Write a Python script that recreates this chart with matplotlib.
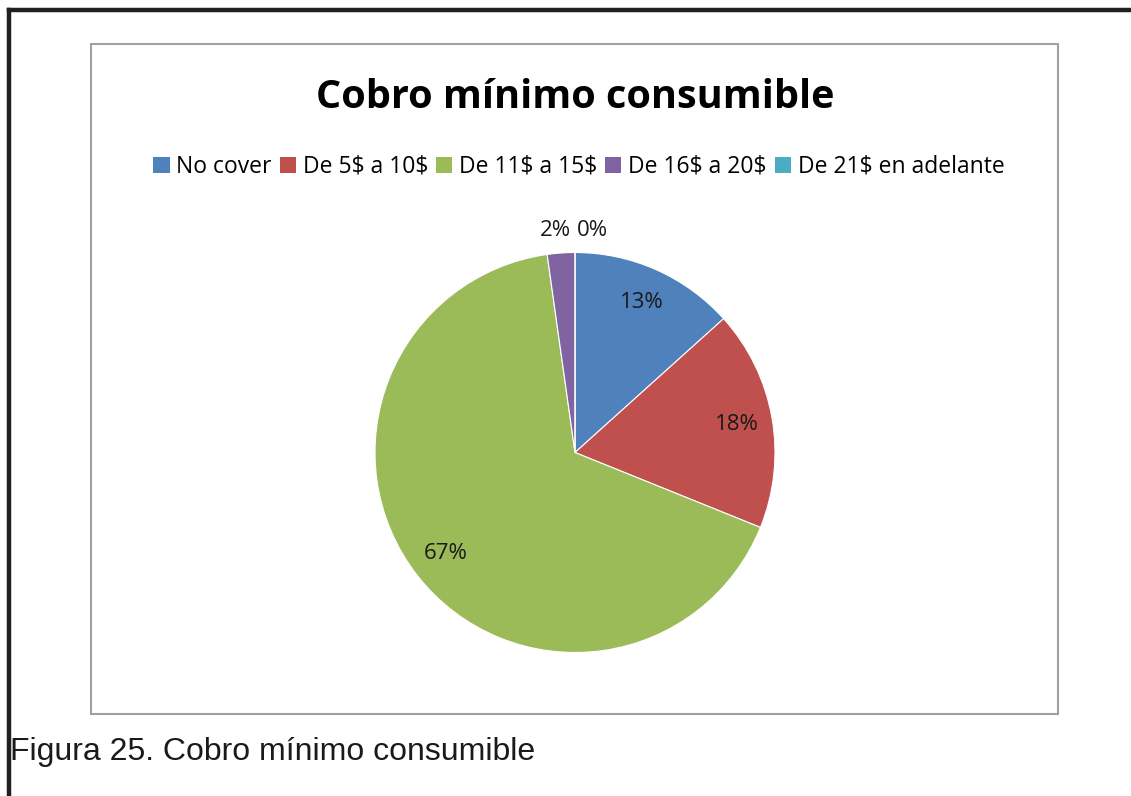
import numpy as np
import matplotlib.pyplot as plt
from matplotlib.patches import Rectangle
from matplotlib.lines import Line2D

plt.rcParams["text.parse_math"] = False

# respuestas por rango de cobro mínimo
categorias = ["No cover", "De 5$ a 10$", "De 11$ a 15$", "De 16$ a 20$", "De 21$ en adelante"]
respuestas = [6, 8, 30, 1, 0]
colores = ["#4F81BD", "#C0504D", "#9BBB59", "#8064A2", "#4BACC6"]

W, H = 1131, 796
fig = plt.figure(figsize=(W / 100, H / 100), dpi=100)
fig.patch.set_facecolor("white")


def px(x, y):
    return x / W, 1 - y / H


# marco negro de la página
fig.add_artist(Line2D([9 / W, 1], [1 - 10 / H, 1 - 10 / H], color="#231f20", lw=3.2))
fig.add_artist(Line2D([9 / W, 9 / W], [0, 1 - 10 / H], color="#231f20", lw=3.2))

# borde del área del gráfico
x0, y0 = px(91, 714)
fig.add_artist(Rectangle((x0, y0), (1058 - 91) / W, (714 - 44) / H,
                         fill=False, edgecolor="#a0a0a0", lw=1.5))

fuente = "Open Sans"
fig.text(*px(575, 98), "Cobro mínimo consumible", ha="center", va="center",
         fontsize=28.5, fontweight="bold", family=fuente, color="#000000")

# pastel
r = 200
cx, cy = 575, 452.5
ax = fig.add_axes([(cx - r) / W, 1 - (cy + r) / H, 2 * r / W, 2 * r / H])
total = sum(respuestas)
wedges, _ = ax.pie(respuestas, colors=colores, startangle=90, counterclock=False,
                   wedgeprops=dict(edgecolor="white", linewidth=0.8))
ax.set_xlim(-1, 1)
ax.set_ylim(-1, 1)
ax.set_aspect("equal")
ax.axis("off")

for w, v in zip(wedges, respuestas):
    ang = np.deg2rad((w.theta1 + w.theta2) / 2)
    pct = f"{round(100 * v / total)}%"
    if v / total > 0.05:
        ax.text(0.82 * np.cos(ang), 0.82 * np.sin(ang), pct, ha="center", va="center",
                fontsize=16, family=fuente, color="#1a1a1a")
# etiquetas de las porciones pequeñas, fuera del pastel
ax.text(-0.02, 1.11, f"{round(100 * respuestas[3] / total)}%", ha="right", va="center",
        fontsize=16, family=fuente, color="#1a1a1a", clip_on=False)
ax.text(0.01, 1.11, f"{round(100 * respuestas[4] / total)}%", ha="left", va="center",
        fontsize=16, family=fuente, color="#1a1a1a", clip_on=False)

# leyenda
handles = [Rectangle((0, 0), 1, 1, facecolor=c) for c in colores]
fig.legend(handles, categorias, loc="center", bbox_to_anchor=px(579, 167), ncol=5,
           frameon=False, prop=dict(family=fuente, size=16.5), handlelength=0.7,
           handleheight=0.7, handletextpad=0.3, columnspacing=0.35)

fig.text(*px(10, 752), "Figura 25. Cobro mínimo consumible", ha="left", va="center",
         fontsize=23, family="Liberation Sans", color="#1a1a1a")

fig.savefig("out.png", dpi=100)
